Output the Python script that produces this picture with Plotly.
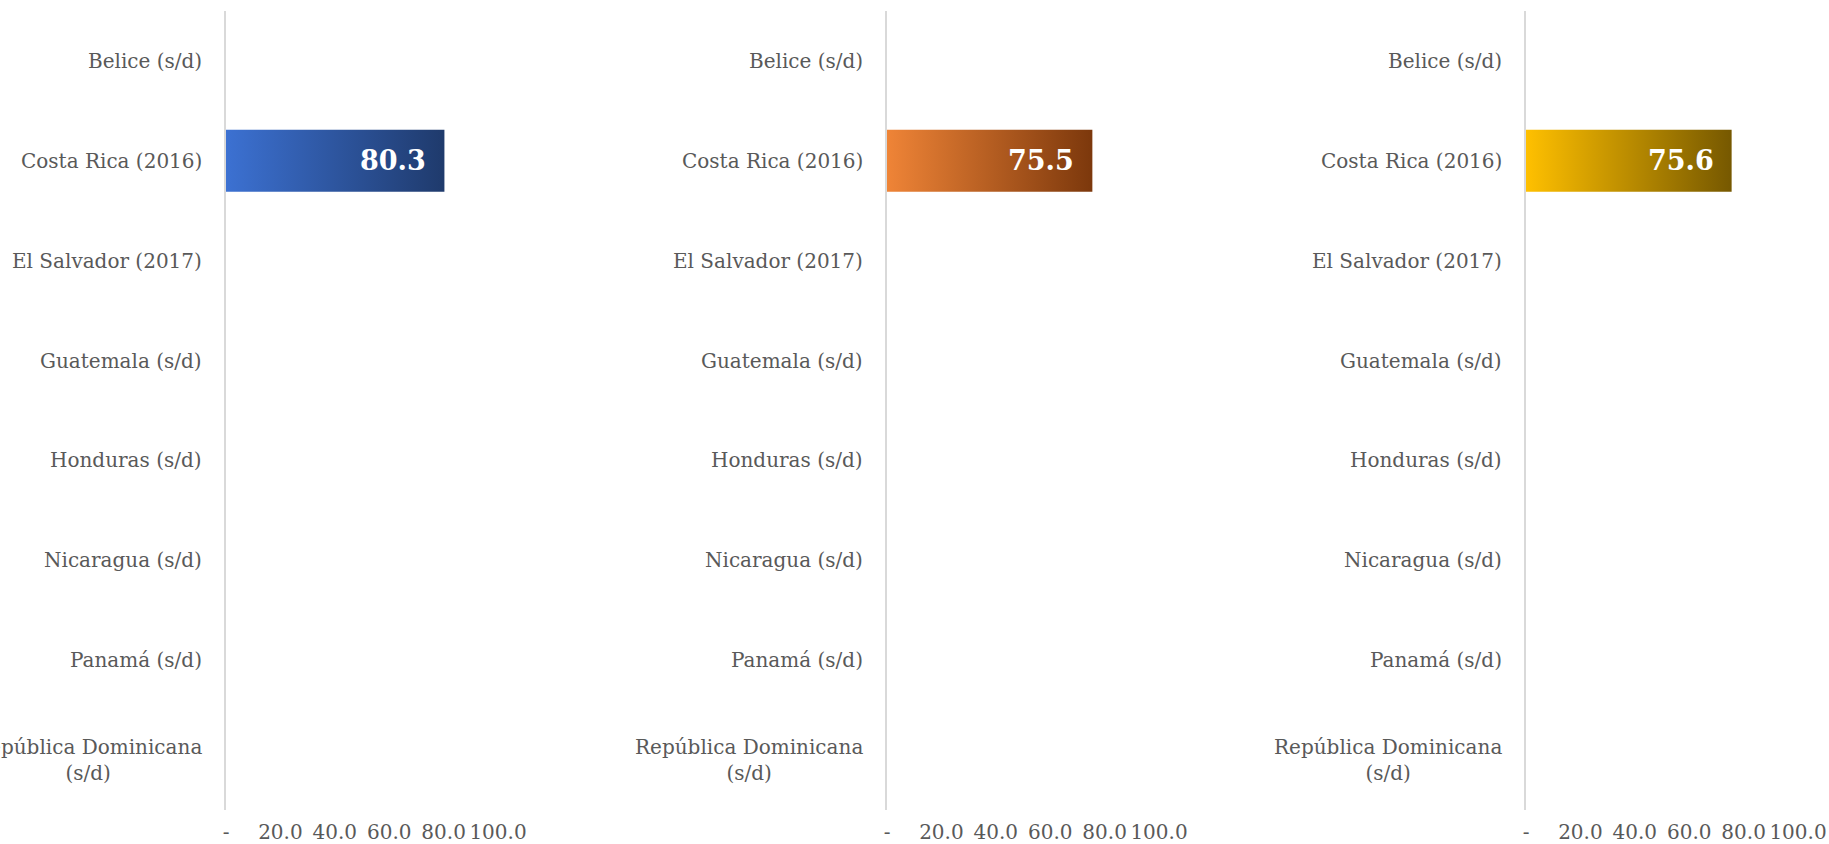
import plotly.graph_objects as go

categories = ["Belice (s/d)", "Costa Rica (2016)", "El Salvador (2017)", "Guatemala (s/d)",
              "Honduras (s/d)", "Nicaragua (s/d)", "Panamá (s/d)", "República Dominicana<br>(s/d)"]
values_1 = [None, 80.3, None, None, None, None, None, None]
values_2 = [None, 75.5, None, None, None, None, None, None]
values_3 = [None, 75.6, None, None, None, None, None, None]
tick_vals = [0, 20, 40, 60, 80, 100]
tick_text = ["-", "20.0", "40.0", "60.0", "80.0", "100.0"]

series = [values_1, values_2, values_3]
gradients = [["#3C71D2", "#1F3A6C"], ["#EF8437", "#7C380C"], ["#FFC000", "#765800"]]
domains = [[226 / 1829, 498 / 1829], [887 / 1829, 1159 / 1829], [1526 / 1829, 1798 / 1829]]
FONT = "DejaVu Serif"
GREY = "#595959"
half = 0.31

fig = go.Figure()
annotations = []
for k, (vals, grad, dom) in enumerate(zip(series, gradients, domains)):
    sfx = "" if k == 0 else str(k + 1)
    xa, ya = "x" + sfx, "y" + sfx
    for i, v in enumerate(vals):
        if v is None:
            continue
        fig.add_trace(go.Scatter(
            x=[0, v, v, 0, 0], y=[i - half, i - half, i + half, i + half, i - half],
            xaxis=xa, yaxis=ya, mode="none", fill="toself",
            fillgradient=dict(type="horizontal", colorscale=[[0, grad[0]], [1, grad[1]]]),
            hoverinfo="skip", showlegend=False))
        annotations.append(dict(x=v, y=i, xref=xa, yref=ya, xanchor="right", yanchor="middle",
                                xshift=-16, text=f"{v:.1f}", showarrow=False,
                                font=dict(family=FONT, size=27, color="white", weight="bold")))
    for i, c in enumerate(categories):
        annotations.append(dict(x=0, y=i, xref=xa + " domain", yref=ya, xanchor="right",
                                yanchor="middle", xshift=-22, text=c, align="center",
                                showarrow=False, font=dict(family=FONT, size=20, color=GREY)))
    fig.update_layout(**{
        "xaxis" + sfx: dict(domain=dom, range=[0, 100], anchor=ya, tickvals=tick_vals,
                             ticktext=tick_text, showgrid=False, zeroline=False, showline=False,
                             ticks="", ticklabelstandoff=8, automargin=False,
                             tickfont=dict(family=FONT, size=20, color=GREY)),
        "yaxis" + sfx: dict(domain=[34 / 844, 833 / 844], range=[7.5, -0.5], anchor=xa,
                             showticklabels=False, showgrid=False, zeroline=False,
                             automargin=False,
                             showline=True, linecolor="#D9D9D9", linewidth=2),
    })

fig.update_layout(width=1829, height=844, margin=dict(l=0, r=0, t=0, b=0, autoexpand=False),
                  paper_bgcolor="white", plot_bgcolor="white", annotations=annotations,
                  showlegend=False)

post = ("document.documentElement.style.margin='0';document.body.style.margin='0';"
        "document.body.style.padding='0';document.body.style.overflow='hidden';"
        "document.documentElement.style.overflow='hidden';"
        "var gd=document.getElementById('{plot_id}');"
        "Plotly.relayout(gd,{width:1829,height:844});")
fig.write_html("out.html", post_script=post,
               config={"responsive": False, "displayModeBar": False})
